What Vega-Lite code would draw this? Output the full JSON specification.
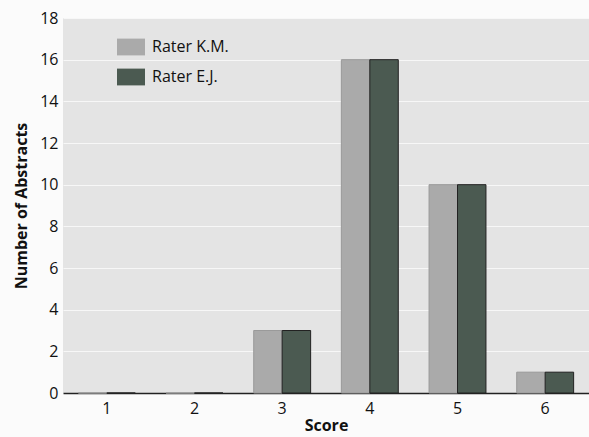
{
  "$schema": "https://vega.github.io/schema/vega-lite/v6.json",
  "width": 526,
  "height": 375,
  "autosize": {"type": "none"},
  "padding": {"left": 63, "top": 18, "right": 0, "bottom": 44},
  "background": "#fbfbfb",
  "config": {
    "view": {"fill": "#e4e4e4", "stroke": null},
    "font": "Open Sans"
  },
  "data": {
    "values": [
      {"score": "1", "rater": "Rater K.M.", "count": 0},
      {"score": "1", "rater": "Rater E.J.", "count": 0},
      {"score": "2", "rater": "Rater K.M.", "count": 0},
      {"score": "2", "rater": "Rater E.J.", "count": 0},
      {"score": "3", "rater": "Rater K.M.", "count": 3},
      {"score": "3", "rater": "Rater E.J.", "count": 3},
      {"score": "4", "rater": "Rater K.M.", "count": 16},
      {"score": "4", "rater": "Rater E.J.", "count": 16},
      {"score": "5", "rater": "Rater K.M.", "count": 10},
      {"score": "5", "rater": "Rater E.J.", "count": 10},
      {"score": "6", "rater": "Rater K.M.", "count": 1},
      {"score": "6", "rater": "Rater E.J.", "count": 1}
    ]
  },
  "mark": {"type": "bar", "strokeWidth": 1},
  "encoding": {
    "x": {
      "field": "score",
      "type": "nominal",
      "scale": {"paddingInner": 0, "paddingOuter": 0},
      "axis": {
        "title": "Score",
        "labelAngle": 0,
        "labelFontSize": 16,
        "labelColor": "#111",
        "labelPadding": 7,
        "ticks": false,
        "domainColor": "#222",
        "domainWidth": 1.5,
        "titleFontSize": 16,
        "titleFontWeight": "bold",
        "titleColor": "#111",
        "titlePadding": 1
      }
    },
    "xOffset": {
      "field": "rater",
      "type": "nominal",
      "sort": ["Rater K.M.", "Rater E.J."],
      "scale": {"paddingInner": 0, "paddingOuter": 0.54}
    },
    "y": {
      "field": "count",
      "type": "quantitative",
      "scale": {"domain": [0, 18], "nice": false},
      "axis": {
        "title": "Number of Abstracts",
        "values": [0, 2, 4, 6, 8, 10, 12, 14, 16, 18],
        "labelFontSize": 16,
        "labelColor": "#111",
        "labelPadding": 5,
        "ticks": false,
        "domain": false,
        "grid": true,
        "gridColor": "#ffffff",
        "gridOpacity": 0.7,
        "titleFontSize": 16,
        "titleFontWeight": "bold",
        "titleColor": "#111",
        "titlePadding": 10
      }
    },
    "color": {
      "field": "rater",
      "type": "nominal",
      "sort": ["Rater K.M.", "Rater E.J."],
      "scale": {"domain": ["Rater K.M.", "Rater E.J."], "range": ["#aaaaaa", "#4b5a51"]},
      "legend": {
        "title": null,
        "orient": "none",
        "legendX": 54,
        "legendY": 15,
        "symbolType": "M-1,-0.6L1,-0.6L1,0.6L-1,0.6Z",
        "symbolSize": 784,
        "symbolStrokeWidth": 0,
        "labelFontSize": 16,
        "labelColor": "#111",
        "labelOffset": 7,
        "rowPadding": 7
      }
    },
    "stroke": {
      "field": "rater",
      "type": "nominal",
      "scale": {"domain": ["Rater K.M.", "Rater E.J."], "range": ["#9a9a9a", "#222222"]},
      "legend": null
    }
  }
}
